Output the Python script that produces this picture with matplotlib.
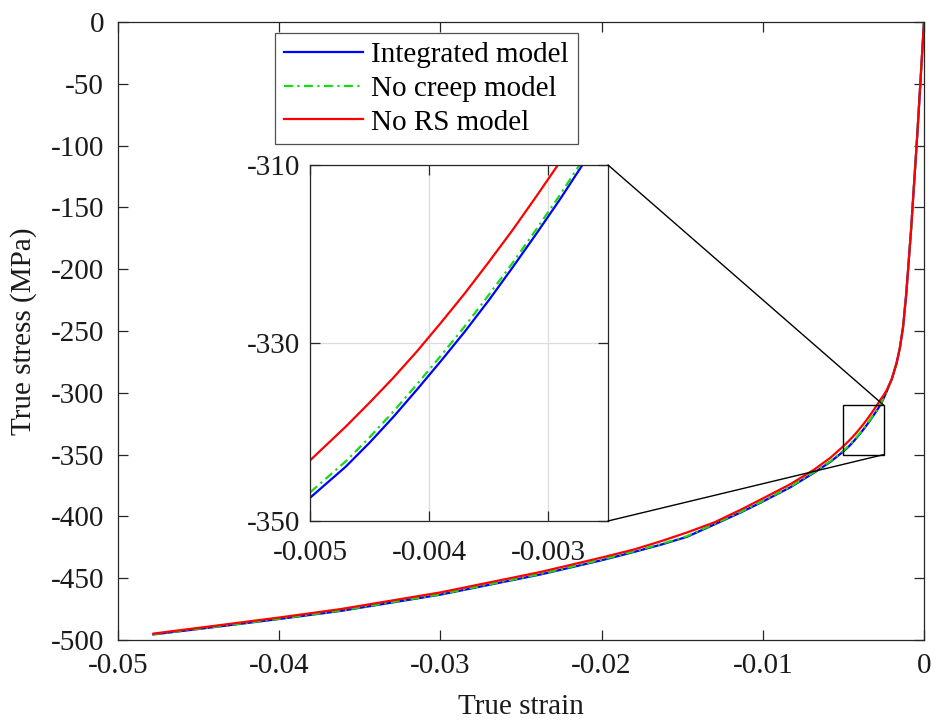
import matplotlib
matplotlib.use("Agg")
import matplotlib.pyplot as plt
from matplotlib.patches import Rectangle, ConnectionPatch

plt.rcParams["font.family"] = ["Liberation Serif", "DejaVu Serif"]
plt.rcParams["axes.unicode_minus"] = False

# True strain sample points shared by the three model curves
strain = [0.0, -0.0004, -0.0008, -0.0011, -0.0013, -0.0015, -0.0017, -0.0020,
          -0.0023, -0.0025, -0.0027, -0.0029, -0.0031, -0.0033, -0.0035,
          -0.0037, -0.0039, -0.0041, -0.0043, -0.0045, -0.0047, -0.0050,
          -0.0058, -0.0068, -0.0083, -0.0100, -0.0114, -0.0130, -0.0147,
          -0.0163, -0.0180, -0.0200, -0.0238, -0.0300, -0.0362, -0.0400,
          -0.0440, -0.0478]

# True stress (MPa) for each model
stress_integrated = [0, -88, -168, -220, -247, -264, -276, -289,
                     -298.5, -304.5, -309.7, -313.8, -317.7, -321.5, -325.2,
                     -328.7, -332.0, -335.2, -338.3, -341.2, -343.9, -347.4,
                     -355.8, -364.5, -376.5, -388.0, -397.0, -406.5, -416.5,
                     -422.8, -428.8, -435.5, -447.0, -463.3, -476.5, -483.0,
                     -489.5, -495.5]

stress_no_creep = [0, -88, -168, -220, -247, -264, -276, -289,
                   -298.0, -304.0, -309.2, -313.3, -317.2, -321.0, -324.6,
                   -328.1, -331.4, -334.6, -337.7, -340.6, -343.3, -346.8,
                   -355.2, -364.0, -376.0, -387.5, -396.5, -406.0, -416.0,
                   -422.3, -428.3, -435.0, -446.6, -463.0, -476.2, -482.8,
                   -489.3, -495.3]

stress_no_rs = [0, -88, -168, -220, -247, -264, -276, -289,
                -297.5, -302.0, -305.5, -309.6, -313.5, -317.3, -320.9,
                -324.4, -327.7, -330.9, -333.9, -336.7, -339.4, -343.2,
                -352.5, -362.0, -374.0, -385.5, -394.8, -404.8, -413.0,
                -420.0, -426.8, -433.3, -445.0, -461.5, -475.0, -481.8,
                -488.5, -494.8]

series_labels = ["Integrated model", "No creep model", "No RS model"]

# Main axes ticks
x_ticks = [-0.05, -0.04, -0.03, -0.02, -0.01, 0]
x_ticklabels = ["-0.05", "-0.04", "-0.03", "-0.02", "-0.01", "0"]
y_ticks = [-500, -450, -400, -350, -300, -250, -200, -150, -100, -50, 0]
y_ticklabels = ["-500", "-450", "-400", "-350", "-300", "-250", "-200",
                "-150", "-100", "-50", "0"]

# Zoomed window
zoom_xlim = (-0.005, -0.0025)
zoom_ylim = (-350, -310)
zoom_x_ticks = [-0.005, -0.004, -0.003]
zoom_x_ticklabels = ["-0.005", "-0.004", "-0.003"]
zoom_y_ticks = [-350, -330, -310]
zoom_y_ticklabels = ["-350", "-330", "-310"]

FS = 21
AX_COLOR = "#262626"
TXT_COLOR = "#1a1a1a"
colors = ["#0000FF", "#11DD11", "#FF0000"]
styles = ["-", (0, (4, 2, 1, 2)), "-"]
series = [stress_integrated, stress_no_creep, stress_no_rs]

fig = plt.figure(figsize=(9.37, 7.24), dpi=100)
ax = fig.add_axes([0.1259, 0.116, 0.8602, 0.8536])

handles = []
for s, c, ls, lab in zip(series, colors, styles, series_labels):
    h, = ax.plot(strain, s, color=c, linestyle=ls, lw=1.6, label=lab)
    handles.append(h)

ax.set_xlim(-0.05, 0)
ax.set_ylim(-500, 0)
ax.set_xticks(x_ticks)
ax.set_xticklabels(x_ticklabels)
ax.set_yticks(y_ticks)
ax.set_yticklabels(y_ticklabels)
ax.tick_params(direction="in", length=7, width=0.9, top=True, right=True,
               labelsize=FS, colors=AX_COLOR, labelcolor=TXT_COLOR)
ax.tick_params(axis="x", pad=9)
ax.tick_params(axis="y", pad=10)
for sp in ax.spines.values():
    sp.set_color(AX_COLOR)
    sp.set_linewidth(0.9)
ax.set_xlabel("True strain", fontsize=FS, color=TXT_COLOR, labelpad=11)
ax.set_ylabel("True stress (MPa)", fontsize=FS, color=TXT_COLOR, labelpad=10)

# Box marking the zoomed region
ax.add_patch(Rectangle((zoom_xlim[0], zoom_ylim[0]),
                       zoom_xlim[1] - zoom_xlim[0], zoom_ylim[1] - zoom_ylim[0],
                       fill=False, edgecolor="black", lw=1.0, zorder=5))

leg = ax.legend(handles=handles, loc="upper left",
                bbox_to_anchor=(0.2935, 0.9544), bbox_transform=fig.transFigure,
                fontsize=FS, frameon=True, fancybox=False, borderaxespad=0,
                handlelength=2.7, handletextpad=0.3, labelspacing=0.25,
                borderpad=0.3)
leg.get_frame().set_edgecolor(AX_COLOR)
leg.get_frame().set_linewidth(0.9)

# Inset
axins = fig.add_axes([0.3308, 0.2804, 0.3181, 0.4917])
for s, c, ls in zip(series, colors, styles):
    axins.plot(strain, s, color=c, linestyle=ls, lw=1.6)
axins.set_xlim(*zoom_xlim)
axins.set_ylim(*zoom_ylim)
axins.set_xticks(zoom_x_ticks)
axins.set_xticklabels(zoom_x_ticklabels)
axins.set_yticks(zoom_y_ticks)
axins.set_yticklabels(zoom_y_ticklabels)
axins.grid(True, color="#dcdcdc", lw=0.9)
axins.set_axisbelow(True)
axins.tick_params(direction="in", length=7, width=0.9, top=True, right=True,
                  labelsize=FS, colors=AX_COLOR, labelcolor=TXT_COLOR)
axins.tick_params(axis="x", pad=14)
axins.tick_params(axis="y", pad=7)
for sp in axins.spines.values():
    sp.set_color(AX_COLOR)
    sp.set_linewidth(0.9)

# Connector lines from the inset corners to the zoom box
for (xa, ya), (xb, yb) in [((1, 1), (zoom_xlim[1], zoom_ylim[1])),
                           ((1, 0), (zoom_xlim[1], zoom_ylim[0]))]:
    con = ConnectionPatch(xyA=(xa, ya), coordsA=axins.transAxes,
                          xyB=(xb, yb), coordsB=ax.transData,
                          color="black", lw=1.0, zorder=6)
    fig.add_artist(con)

fig.savefig("out.png", dpi=100)
